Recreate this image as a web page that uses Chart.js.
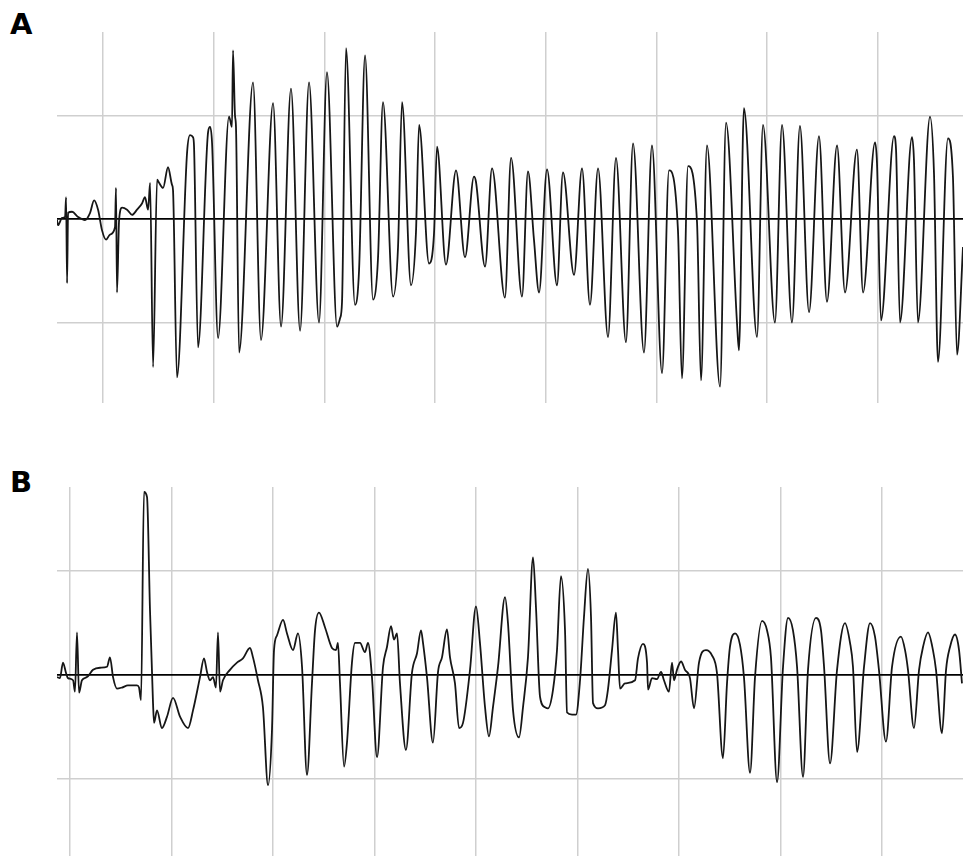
<!DOCTYPE html>
<html>
<head>
<meta charset="utf-8">
<script src="https://cdn.jsdelivr.net/npm/chart.js@4"></script>
<style>
  html, body { margin: 0; padding: 0; background: #fff; width: 963px; height: 856px; overflow: hidden; }
  .lbl { position: absolute; font-family: "DejaVu Sans", "Liberation Sans", Arial, sans-serif; font-weight: bold; font-size: 29px; color: #000; line-height: 1; }
  canvas { position: absolute; }
</style>
</head>
<body>
<div class="lbl" style="left:10px; top:10px;">A</div>
<div class="lbl" style="left:10px; top:468px;">B</div>
<canvas id="ca" width="906" height="371" style="left:57px; top:32px;"></canvas>
<canvas id="cb" width="906" height="369" style="left:57px; top:487px;"></canvas>
<script>
// Panel A: time (grid units) and amplitude (grid units)
const tA = [-0.416,-0.407,-0.370,-0.343,-0.334,-0.325,-0.316,-0.280,-0.226,-0.163,-0.117,-0.081,-0.045,-0.009,0.027,0.063,0.108,0.117,0.126,0.145,
0.172,0.217,0.262,0.307,0.352,0.379,0.407,0.425,0.452,0.488,0.506,0.542,0.587,0.623,0.632,0.668,0.759,0.786,0.813,0.822,
0.858,0.949,0.967,0.985,1.039,1.138,1.165,1.174,1.192,1.201,1.229,1.355,1.427,1.536,1.608,1.698,1.780,1.861,1.951,2.023,
2.114,2.141,2.159,2.195,2.276,2.313,2.367,2.439,2.484,2.529,2.620,2.665,2.701,2.782,2.827,2.855,2.945,2.990,3.017,3.098,
3.189,3.270,3.351,3.369,3.451,3.514,3.631,3.686,3.785,3.839,3.893,3.939,4.011,4.101,4.155,4.255,4.327,4.399,4.472,4.562,
4.634,4.724,4.788,4.887,4.959,5.050,5.113,5.194,5.230,5.285,5.366,5.402,5.456,5.574,5.628,5.727,5.745,5.790,5.908,5.962,
6.070,6.134,6.224,6.296,6.378,6.468,6.540,6.631,6.703,6.811,6.866,6.974,6.992,7.028,7.146,7.164,7.200,7.308,7.326,7.362,
7.471,7.507,7.543,7.633,7.678,7.715,7.769];
const vA = [-0.01,-0.06,0.01,0.02,0.21,-0.62,0.06,0.07,0.02,-0.01,0.06,0.18,0.09,-0.11,-0.20,-0.15,-0.08,0.30,-0.71,-0.01,
0.11,0.09,0.04,0.09,0.15,0.21,0.09,0.35,-1.43,0.38,0.35,0.30,0.50,0.33,0.28,-1.53,0.64,0.81,0.79,0.70,
-1.24,0.84,0.89,0.73,-1.15,0.99,0.89,1.63,1.00,0.89,-1.29,1.32,-1.17,1.12,-1.04,1.26,-1.08,1.32,-1.00,1.42,
-1.04,-0.96,-0.80,1.65,-0.83,-0.49,1.58,-0.78,-0.38,1.13,-0.75,-0.27,1.13,-0.64,-0.13,0.91,-0.43,-0.14,0.70,-0.44,
0.47,-0.37,0.41,0.36,-0.46,0.49,-0.76,0.59,-0.75,0.46,-0.20,-0.71,0.48,-0.64,0.45,-0.54,0.49,-0.83,0.49,-1.14,
0.59,-1.19,0.73,-1.29,0.71,-1.49,0.47,-0.11,-1.54,0.51,-0.03,-1.56,0.71,-1.62,0.93,-1.00,-1.27,1.07,-1.14,0.91,
-1.00,0.91,-1.00,0.90,-0.90,0.80,-0.80,0.71,-0.71,0.67,-0.71,0.74,0.54,-0.98,0.80,0.67,-1.00,0.79,0.57,-1.00,
0.99,0.44,-1.38,0.78,0.41,-1.31,-0.27];

// Panel B
const tB = [-0.128,-0.099,-0.069,-0.039,-0.020,0.030,0.049,0.069,0.089,0.118,0.167,0.227,0.296,0.365,0.394,0.424,0.463,0.512,0.571,0.660,
0.680,0.700,0.729,0.759,0.788,0.818,0.828,0.857,0.906,0.956,1.015,1.084,1.163,1.212,1.281,1.320,1.350,1.379,1.409,1.438,
1.458,1.478,1.507,1.576,1.645,1.704,1.773,1.803,1.852,1.901,1.951,1.990,2.010,2.039,2.099,2.138,2.197,2.246,2.286,2.335,
2.384,2.414,2.453,2.512,2.581,2.621,2.640,2.660,2.700,2.729,2.778,2.808,2.857,2.906,2.936,2.975,3.025,3.084,3.123,3.163,
3.192,3.222,3.251,3.310,3.369,3.419,3.458,3.478,3.517,3.576,3.626,3.665,3.714,3.744,3.793,3.833,3.872,3.941,4.000,4.039,
4.089,4.128,4.167,4.217,4.286,4.315,4.365,4.424,4.463,4.512,4.562,4.591,4.631,4.680,4.709,4.759,4.798,4.837,4.877,4.897,
4.946,4.985,5.025,5.064,5.103,5.133,5.153,5.202,5.271,5.300,5.340,5.379,5.399,5.419,5.468,5.567,5.596,5.645,5.685,5.695,
5.734,5.783,5.823,5.852,5.901,5.931,5.951,5.980,6.020,6.059,6.108,6.148,6.197,6.266,6.325,6.374,6.433,6.473,6.502,6.552,
6.601,6.640,6.700,6.749,6.818,6.867,6.906,6.966,7.025,7.074,7.123,7.163,7.222,7.271,7.350,7.399,7.429,7.488,7.557,7.635,
7.685,7.714,7.754,7.823,7.882,7.931,7.970,8.039,8.099,8.187,8.227,8.256,8.315,8.365,8.404,8.453,8.502,8.532,8.591,8.631,
8.670,8.719,8.759,8.788];
const vB = [-0.02,-0.03,0.12,0.02,-0.03,-0.05,-0.16,0.41,-0.17,-0.05,-0.02,0.05,0.07,0.08,0.17,-0.02,-0.13,-0.12,-0.10,-0.10,
-0.12,-0.24,1.76,1.71,0.63,-0.27,-0.46,-0.34,-0.51,-0.40,-0.22,-0.40,-0.51,-0.34,-0.02,0.16,0.03,-0.05,-0.02,-0.12,
0.41,-0.16,-0.05,0.05,0.12,0.16,0.26,0.17,-0.05,-0.31,-1.06,-0.53,0.24,0.38,0.53,0.40,0.24,0.40,0.08,-0.96,
-0.08,0.43,0.60,0.46,0.26,0.24,0.31,-0.08,-0.88,-0.65,0.12,0.31,0.31,0.22,0.31,-0.02,-0.79,0.08,0.27,0.47,
0.34,0.40,-0.08,-0.72,0.02,0.21,0.43,0.31,-0.02,-0.65,0.03,0.17,0.44,0.17,-0.08,-0.51,-0.46,0.05,0.66,0.31,
-0.31,-0.59,-0.31,0.08,0.75,0.50,-0.34,-0.60,-0.31,0.17,1.13,0.65,-0.21,-0.31,-0.32,-0.14,0.24,0.95,0.43,-0.36,
-0.38,-0.38,-0.05,0.56,1.02,0.56,-0.27,-0.32,-0.29,-0.14,0.24,0.60,0.24,-0.13,-0.08,-0.05,0.16,0.30,0.12,-0.14,
-0.03,-0.04,0.03,-0.05,-0.16,0.12,-0.05,0.05,0.13,0.05,-0.03,-0.32,0.12,0.24,0.19,0.02,-0.80,-0.08,0.27,0.40,
0.29,-0.02,-0.94,-0.02,0.52,0.43,0.17,-1.03,0.08,0.55,0.43,0.08,-0.98,0.05,0.55,0.43,0.08,-0.85,0.05,0.50,
0.31,0.08,-0.74,0.08,0.50,0.37,0.05,-0.64,0.08,0.37,0.24,0.05,-0.51,0.05,0.27,0.41,0.24,0.05,-0.56,0.05,
0.27,0.39,0.24,-0.08];

const gridXA = [0,1,2,3,4,5,6,7];
const gridXB = [0,1,2,3,4,5,6,7,8];
const gridY = [-1,0,1];

function makeChart(id, t, v, xmin, xmax, ymin, ymax, gx) {
  const pts = t.map((x, i) => ({ x: x, y: v[i] }));
  return new Chart(document.getElementById(id), {
    type: 'line',
    data: { datasets: [{ data: pts, borderColor: '#161616', borderWidth: 1.8, pointRadius: 0,
      cubicInterpolationMode: 'monotone', fill: false, borderJoinStyle: 'round' }] },
    options: {
      responsive: false, animation: false, devicePixelRatio: 1,
      layout: { padding: 0 },
      plugins: { legend: { display: false }, tooltip: { enabled: false } },
      scales: {
        x: { type: 'linear', min: xmin, max: xmax,
          afterBuildTicks: (ax) => { ax.ticks = gx.map(val => ({ value: val })); },
          ticks: { display: false }, border: { display: false },
          grid: { color: '#cfcfcf', lineWidth: 1.5, drawTicks: false } },
        y: { type: 'linear', min: ymin, max: ymax,
          afterBuildTicks: (ax) => { ax.ticks = gridY.map(val => ({ value: val })); },
          ticks: { display: false }, border: { display: false },
          grid: { drawTicks: false,
            color: (c) => (c.tick && c.tick.value === 0) ? '#000' : '#cfcfcf',
            lineWidth: (c) => (c.tick && c.tick.value === 0) ? 1.8 : 1.5 } }
      }
    }
  });
}
makeChart('ca', tA, vA, -0.416, 7.769, -1.778, 1.807, gridXA);
makeChart('cb', tB, vB, -0.128, 8.798, -1.740, 1.808, gridXB);
</script>
</body>
</html>
